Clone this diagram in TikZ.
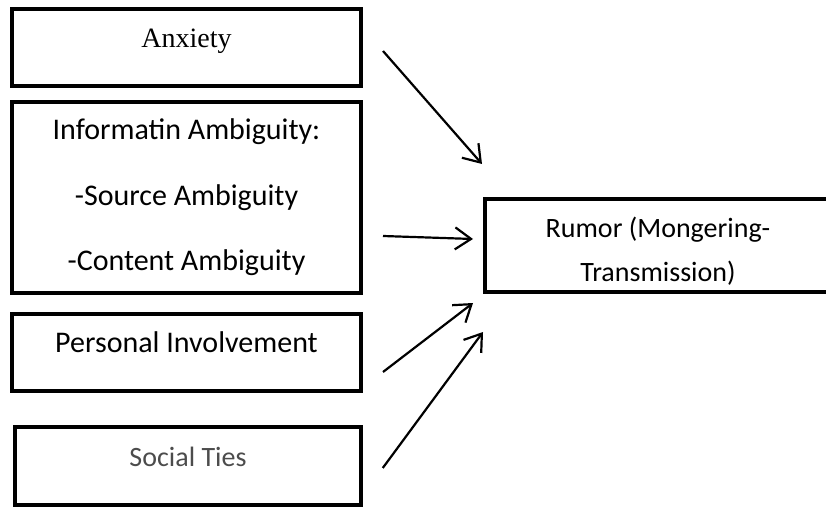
\documentclass[tikz,border=0pt]{standalone}
\usepackage{fontspec}
\setmainfont{Carlito}
\newfontfamily\timesfont{Liberation Serif}
\usetikzlibrary{arrows.meta, positioning, calc}
\tikzset{
  box/.style={rectangle, draw=black, line width=4pt, minimum width=349pt,
    minimum height=77pt, align=center, inner sep=0pt,
    font=\fontsize{30}{36}\selectfont},
  topbox/.style={box, text height=20pt, text depth=20pt},
  arrow/.style={-{Straight Barb[length=16pt,width=22pt]}, line width=2.2pt}
}

\begin{document}
\begin{tikzpicture}[x=1pt, y=-1pt]
  \path[use as bounding box, clip] (0,0) rectangle (826,510);

  \node [topbox, font=\timesfont\fontsize{28}{34}\selectfont] (anx) at (186.5,47.5) {Anxiety};
  \node [box, minimum height=191pt, font=\fontsize{30}{65.5}\selectfont] (info) at (186.5,197.5)
    {Informatin Ambiguity:\\-Source Ambiguity\\-Content Ambiguity};
  \node [topbox] (pers) at (186.5,352.5) {Personal Involvement};
  \node [topbox, minimum width=346pt, minimum height=78pt, line width=3.5pt,
    text=black!70, font=\fontsize{28}{34}\selectfont] (soc) at (188,466) {Social Ties};
  \node [box, minimum width=346pt, minimum height=93pt, text height=76pt,
    font=\fontsize{28}{44}\selectfont] (rumor) at (658,245.5) {Rumor (Mongering-\\Transmission)};

  \draw [arrow] ([xshift=20pt,yshift=-3.5pt]anx.east) -- ([xshift=-1pt,yshift=33pt]rumor.north west);
  \draw [arrow] ([xshift=20pt,yshift=-38.5pt]info.east) -- ([xshift=-10pt,yshift=6.5pt]rumor.west);
  \draw [arrow] ([xshift=20pt,yshift=-19.5pt]pers.east) -- ([xshift=-10pt,yshift=-9pt]rumor.south west);
  \draw [arrow] ([xshift=20pt,yshift=-2pt]soc.east) -- ([xshift=0pt,yshift=-38pt]rumor.south west);
\end{tikzpicture}
\end{document}
